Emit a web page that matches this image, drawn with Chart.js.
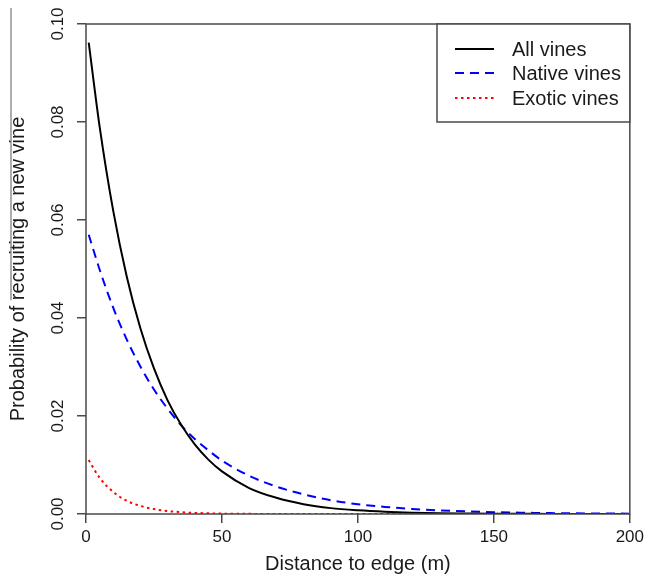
<!DOCTYPE html>
<html>
<head>
<meta charset="utf-8">
<script src="https://cdn.jsdelivr.net/npm/chart.js@4/dist/chart.umd.min.js"></script>
<style>
  html, body { margin: 0; padding: 0; background: #fff; }
  #wrap { width: 648px; height: 577px; position: relative; }
</style>
</head>
<body>
<div id="wrap"><canvas id="chart"></canvas></div>
<script>
"use strict";
// distance to edge (m)
const distances = [1, 5, 10, 15, 20, 25, 30, 35, 40, 45, 50, 60, 70, 80, 90, 100,
    110, 120, 130, 140, 150, 160, 170, 180, 190, 200];
// values
const allVines = [0.0962, 0.0791, 0.0619, 0.0484, 0.0379, 0.0297, 0.0232, 0.0182, 0.0142, 0.0111, 0.0087,
    0.0053, 0.0033, 0.0020, 0.0012, 0.00075, 0.00046, 0.00028, 0.00017, 0.00011, 0.00006,
    0.00004, 0.00002, 0.00001, 0.00001, 0.00001];
const nativeVines = [0.0570, 0.0499, 0.0421, 0.0356, 0.0301, 0.0254, 0.0215, 0.0181, 0.0153, 0.0130, 0.0109,
    0.0078, 0.0056, 0.0040, 0.0028, 0.0020, 0.00145, 0.00103, 0.00074, 0.00053, 0.00038,
    0.00027, 0.00019, 0.00014, 0.00010, 0.00007];
const exoticVines = [0.0110, 0.0074, 0.0045, 0.0027, 0.00165, 0.0010, 0.0006, 0.00037, 0.00022, 0.00014, 0.00008,
    0.00003, 0.00001, 0, 0, 0, 0, 0, 0, 0, 0, 0, 0, 0, 0, 0];
const seriesNames = ['All vines', 'Native vines', 'Exotic vines'];
const xTicks = [0, 50, 100, 150, 200];
const yTicks = [0, 0.02, 0.04, 0.06, 0.08, 0.10];

const FONT = 'Arial, "Liberation Sans", Helvetica, sans-serif';
const INK = '#1a1a1a';
const AXIS = '#4a4a4a';

function toPoints(values) {
    return distances.map((d, i) => ({ x: d, y: values[i] }));
}

// box round the plot region, R style
const boxPlugin = {
    id: 'box',
    afterDatasetsDraw(chart) {
        const { ctx, chartArea: a } = chart;
        ctx.save();
        ctx.strokeStyle = AXIS;
        ctx.lineWidth = 1.5;
        ctx.strokeRect(a.left, a.top, a.right - a.left, a.bottom - a.top);
        ctx.restore();
    }
};

// legend box in the top right corner
const legendPlugin = {
    id: 'rlegend',
    afterDraw(chart) {
        const { ctx, chartArea: a } = chart;
        const left = 437, top = a.top, right = a.right, bottom = 122;
        ctx.save();
        ctx.fillStyle = '#fff';
        ctx.fillRect(left, top, right - left, bottom - top);
        ctx.strokeStyle = AXIS;
        ctx.lineWidth = 1.5;
        ctx.strokeRect(left, top, right - left, bottom - top);
        ctx.font = '20px ' + FONT;
        ctx.textBaseline = 'middle';
        ctx.fillStyle = INK;
        const rows = [49, 73, 98];
        chart.data.datasets.forEach((ds, i) => {
            ctx.strokeStyle = ds.borderColor;
            ctx.lineWidth = ds.borderWidth;
            ctx.setLineDash(ds.borderDash || []);
            ctx.beginPath();
            ctx.moveTo(455, rows[i]);
            ctx.lineTo(494, rows[i]);
            ctx.stroke();
            ctx.setLineDash([]);
            ctx.fillText(ds.label, 512, rows[i] + 1);
        });
        ctx.restore();
    }
};

// stray rule above part of the y title in the original figure
const ruleMark = {
    id: 'ruleMark',
    afterDraw(chart) {
        const { ctx, chartArea: a } = chart;
        const title = chart.options.scales.y.title.text;
        ctx.save();
        ctx.font = '20px ' + FONT;
        const total = ctx.measureText(title).width;
        const head = ctx.measureText('Probability of ').width;
        const mid = (a.top + a.bottom) / 2;
        const end = mid + total / 2 - head;
        ctx.strokeStyle = '#777';
        ctx.lineWidth = 1.2;
        ctx.beginPath();
        ctx.moveTo(11, 8);
        ctx.lineTo(11, end);
        ctx.stroke();
        ctx.restore();
    }
};

const ctx = document.getElementById('chart').getContext('2d');
new Chart(ctx, {
    type: 'line',
    data: {
        datasets: [{
            label: seriesNames[0],
            data: toPoints(allVines),
            borderColor: '#000000',
            borderWidth: 2,
            pointRadius: 0,
            cubicInterpolationMode: 'monotone'
        }, {
            label: seriesNames[1],
            data: toPoints(nativeVines),
            borderColor: '#0000ff',
            borderWidth: 2,
            borderDash: [9, 6],
            pointRadius: 0,
            cubicInterpolationMode: 'monotone'
        }, {
            label: seriesNames[2],
            data: toPoints(exoticVines),
            borderColor: '#ff0000',
            borderWidth: 2,
            borderDash: [2.5, 3.5],
            pointRadius: 0,
            cubicInterpolationMode: 'monotone'
        }]
    },
    options: {
        responsive: true,
        maintainAspectRatio: false,
        animation: false,
        layout: { padding: { top: 24, right: 16, left: 0, bottom: 0 } },
        plugins: {
            legend: { display: false },
            tooltip: { enabled: false }
        },
        scales: {
            x: {
                type: 'linear',
                min: 0,
                max: 200,
                afterFit(scale) { scale.height = 63; },
                afterBuildTicks(scale) { scale.ticks = xTicks.map(v => ({ value: v })); },
                grid: { display: true, drawOnChartArea: false, drawTicks: true, tickLength: 9, color: AXIS, lineWidth: 1.5 },
                border: { display: false },
                ticks: { color: INK, font: { family: FONT, size: 17 }, padding: 4, maxRotation: 0 },
                title: { display: true, text: 'Distance to edge (m)', color: INK, font: { family: FONT, size: 20 }, padding: { top: 0, bottom: 1 } }
            },
            y: {
                type: 'linear',
                min: 0,
                max: 0.1,
                afterFit(scale) { scale.width = 86; },
                afterBuildTicks(scale) { scale.ticks = yTicks.map(v => ({ value: v })); },
                grid: { display: true, drawOnChartArea: false, drawTicks: true, tickLength: 9, color: AXIS, lineWidth: 1.5 },
                border: { display: false },
                ticks: {
                    color: INK,
                    font: { family: FONT, size: 17 },
                    minRotation: 90,
                    maxRotation: 90,
                    crossAlign: 'center',
                    padding: 2,
                    callback: v => v.toFixed(2)
                },
                title: { display: true, text: 'Probability of recruiting a new vine', color: INK, font: { family: FONT, size: 20 }, padding: { top: 6, bottom: 0 } }
            }
        }
    },
    plugins: [boxPlugin, legendPlugin, ruleMark]
});
</script>
</body>
</html>
